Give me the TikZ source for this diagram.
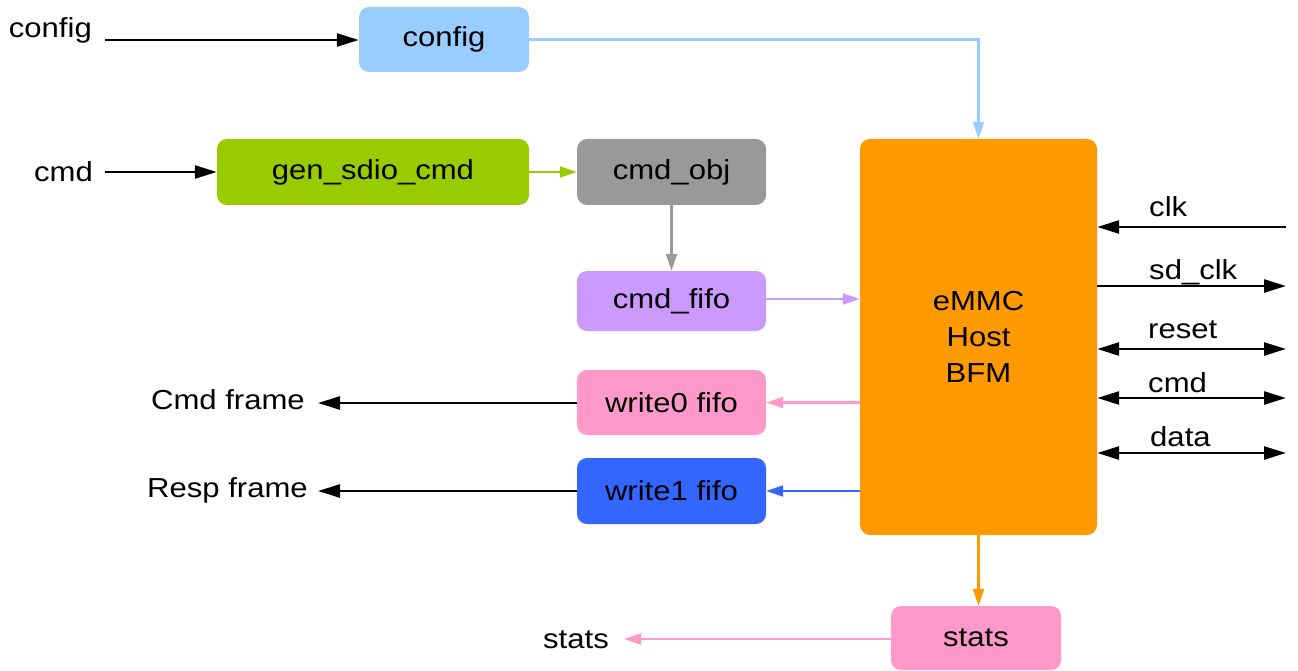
\documentclass[tikz,border=0pt]{standalone}
\usepackage{fontspec}
\setmainfont[FakeStretch=1.13]{Liberation Sans}
\usetikzlibrary{arrows.meta,calc}
\definecolor{cfgblue}{HTML}{99CCFF}
\definecolor{gengreen}{HTML}{99CC00}
\definecolor{objgray}{HTML}{999999}
\definecolor{fifopurple}{HTML}{CC99FF}
\definecolor{wpink}{HTML}{FF99CC}
\definecolor{wblue}{HTML}{3366FF}
\definecolor{emmcorange}{HTML}{FF9900}
\tikzset{
  blk/.style={rectangle, rounded corners=10pt, draw=none, inner sep=0pt,
    font=\fontsize{27.5}{36}\selectfont, text=black, align=center},
  lbl/.style={inner sep=0pt, font=\fontsize{27.5}{30}\selectfont, text=black},
  blkarrow/.style={line width=2.6pt, -{Triangle[length=22pt,width=13pt]}},
  dblarrow/.style={line width=2.6pt, {Triangle[length=22pt,width=13pt]}-{Triangle[length=22pt,width=13pt]}},
  colarrow/.style={line width=2.2pt, -{Triangle[length=17pt,width=11pt]}},
}
\begin{document}
\begin{tikzpicture}[x=1pt,y=-1pt]
\useasboundingbox (0,0) rectangle (1298,671);
% blocks
\node[blk, fill=cfgblue, minimum width=170pt, minimum height=65pt] (cfg) at (444,39.5) {config};
\node[blk, fill=gengreen, minimum width=312pt, minimum height=66pt] (gen) at (373,172) {gen\_sdio\_cmd};
\node[blk, fill=objgray, minimum width=189pt, minimum height=66pt] (obj) at (671.5,172) {cmd\_obj};
\node[blk, fill=fifopurple, minimum width=189pt, minimum height=60pt] (cf) at (671.5,301) {cmd\_fifo};
\node[blk, fill=wpink, minimum width=189pt, minimum height=65pt] (w0) at (671.5,402.5) {write0 fifo};
\node[blk, fill=wblue, minimum width=189pt, minimum height=66pt] (w1) at (671.5,491) {write1 fifo};
\node[blk, fill=emmcorange, minimum width=237pt, minimum height=396pt] (emmc) at (978.5,337) {eMMC\\Host\\BFM};
\node[blk, fill=wpink, minimum width=170pt, minimum height=64pt] (st) at (976,638) {stats};
% left labels
\node[lbl, anchor=east] (lcfg) at (92,30) {config};
\node[lbl, anchor=east] (lcmd) at (93,172) {cmd};
\node[lbl, anchor=east] (lcf) at (305,400) {Cmd frame};
\node[lbl, anchor=east] (lrf) at (308,490) {Resp frame};
\node[lbl, anchor=east] (lst) at (609,640) {stats};
% right labels
\node[lbl, anchor=west] (lclk) at (1149,207) {clk};
\node[lbl, anchor=west] (lsdclk) at (1149,272) {sd\_clk};
\node[lbl, anchor=west] (lrst) at (1148,330) {reset};
\node[lbl, anchor=west] (lcmdr) at (1148,383) {cmd};
\node[lbl, anchor=west] (ldata) at (1150,437) {data};
% free ends
\coordinate (scfg) at (105,40);
\coordinate (scmd) at (105,172);
\coordinate (ecf) at (318,403);
\coordinate (erf) at (318,491);
\coordinate (est) at (624,639);
\coordinate (eclk) at (1286,227);
\coordinate (esd) at (1286,286);
\coordinate (erst) at (1286,349);
\coordinate (ecmd) at (1286,398);
\coordinate (edata) at (1286,453);
% black input/output arrows
\draw[blkarrow] (scfg) -- (cfg.west |- scfg);
\draw[blkarrow] (scmd) -- (gen.west);
\draw[blkarrow] (w0.west |- ecf) -- (ecf);
\draw[blkarrow] (w1.west |- erf) -- (erf);
% coloured internal connectors
\draw[colarrow, draw=cfgblue] (cfg.east) -| (emmc.north);
\draw[colarrow, draw=gengreen] (gen.east) -- (obj.west);
\draw[colarrow, draw=objgray] (obj.south) -- (cf.north);
\draw[colarrow, draw=fifopurple] ($(cf.east)+(0,-2)$) -- ($(cf.east -| emmc.west)+(0,-2)$);
\draw[colarrow, draw=wpink] (emmc.west |- w0.east) -- (w0.east);
\draw[colarrow, draw=wblue] (emmc.west |- w1.east) -- (w1.east);
\draw[colarrow, draw=emmcorange] (emmc.south) -- (emmc.south |- st.north);
\draw[colarrow, draw=wpink] (st.west |- est) -- (est);
% right side pins
\draw[blkarrow] (eclk) -- (eclk -| emmc.east);
\draw[blkarrow] (esd -| emmc.east) -- (esd);
\draw[dblarrow] (erst -| emmc.east) -- (erst);
\draw[dblarrow] (ecmd -| emmc.east) -- (ecmd);
\draw[dblarrow] (edata -| emmc.east) -- (edata);
\end{tikzpicture}
\end{document}
